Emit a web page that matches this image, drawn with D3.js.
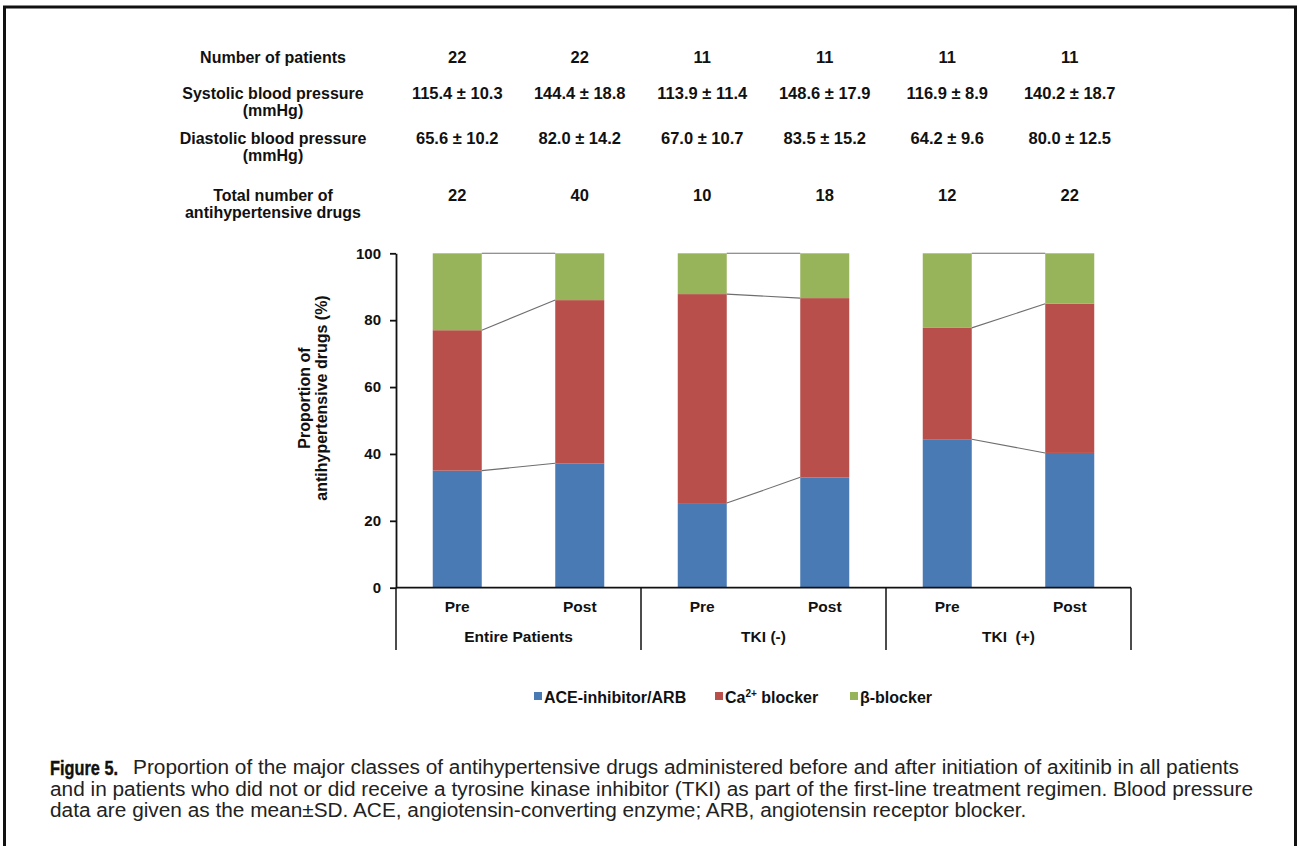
<!DOCTYPE html>
<html><head><meta charset="utf-8">
<script src="https://cdn.jsdelivr.net/npm/d3@7"></script>
<style>
body{margin:0;background:#fff}
svg text{font-family:"Liberation Sans",Arial,Helvetica,sans-serif}
</style>
</head><body>
<svg id="chart" width="1299" height="846"></svg>
<script>
// ---------------- data ----------------
const groups = ["Entire Patients", "TKI (-)", "TKI  (+)"];
const phases = ["Pre", "Post"];
const seriesKeys = ["ace", "ca", "beta"];
const seriesColors = ["#4a7ab4", "#b84f4b", "#98b45a"];
const aceValues  = [35.0, 37.2, 25.3, 33.0, 44.4, 40.3];
const caValues   = [42.0, 48.8, 62.5, 53.6, 33.3, 44.6];
const betaValues = [23.0, 14.0, 12.2, 13.4, 22.3, 15.1];
const yTicks = [0, 20, 40, 60, 80, 100];
const nPatients = ["22", "22", "11", "11", "11", "11"];
const systolic = ["115.4 \u00b1 10.3", "144.4 \u00b1 18.8", "113.9 \u00b1 11.4", "148.6 \u00b1 17.9", "116.9 \u00b1 8.9", "140.2 \u00b1 18.7"];
const diastolic = ["65.6 \u00b1 10.2", "82.0 \u00b1 14.2", "67.0 \u00b1 10.7", "83.5 \u00b1 15.2", "64.2 \u00b1 9.6", "80.0 \u00b1 12.5"];
const totalDrugs = ["22", "40", "10", "18", "12", "22"];
const rowLabels = [["Number of patients"], ["Systolic blood pressure", "(mmHg)"], ["Diastolic blood pressure", "(mmHg)"], ["Total number of", "antihypertensive drugs"]];

const rows = [];
groups.forEach((g, gi) => phases.forEach((p, pi) => {
  const i = gi * 2 + pi;
  rows.push({group: g, phase: p, ace: aceValues[i], ca: caValues[i], beta: betaValues[i]});
}));

// ---------------- layout ----------------
const svg = d3.select("#chart");
const plotLeft = 396, plotRight = 1131, plotTop = 253.3, plotBottom = 587.7;

const y = d3.scaleLinear().domain([0, 100]).range([plotBottom, plotTop]);
const x0 = d3.scaleBand().domain(groups).range([plotLeft, plotRight]).padding(0);
const x1 = d3.scaleBand().domain(phases).range([0, x0.bandwidth()]).paddingInner(0.6).paddingOuter(0.3);
const xPos = d => x0(d.group) + x1(d.phase);
const bw = x1.bandwidth();

const stacked = d3.stack().keys(seriesKeys)(rows);

// frame
svg.append("line").attr("x1", 3).attr("x2", 1297).attr("y1", 7).attr("y2", 7).attr("stroke", "#111").attr("stroke-width", 3);
svg.append("line").attr("x1", 4.5).attr("x2", 4.5).attr("y1", 6).attr("y2", 846).attr("stroke", "#111").attr("stroke-width", 3);
svg.append("line").attr("x1", 1295.5).attr("x2", 1295.5).attr("y1", 6).attr("y2", 846).attr("stroke", "#111").attr("stroke-width", 3);

// bars
stacked.forEach((s, si) => {
  svg.append("g").selectAll("rect").data(s).join("rect")
    .attr("x", d => xPos(d.data))
    .attr("width", bw)
    .attr("y", d => y(d[1]))
    .attr("height", d => y(d[0]) - y(d[1]))
    .attr("fill", seriesColors[si]);
});

// connector lines between pre and post tops
const conn = svg.append("g").attr("stroke", "#6e6e6e").attr("stroke-width", 1.1);
stacked.forEach(s => {
  groups.forEach((g, gi) => {
    const a = s[gi * 2], b = s[gi * 2 + 1];
    conn.append("line")
      .attr("x1", xPos(a.data) + bw).attr("y1", y(a[1]))
      .attr("x2", xPos(b.data)).attr("y2", y(b[1]));
  });
});

// y axis
const yAxis = svg.append("g").attr("transform", `translate(${plotLeft},0)`)
  .call(d3.axisLeft(y).tickValues(yTicks).tickSize(6).tickSizeOuter(0).tickPadding(9));
yAxis.select(".domain").attr("stroke", "#111").attr("stroke-width", 1.8);
yAxis.selectAll(".tick line").attr("stroke", "#111").attr("stroke-width", 1.8);
yAxis.selectAll("text").attr("font-size", 15).attr("font-weight", "bold").attr("fill", "#111")
  .style("font-family", "'Liberation Sans', Arial, sans-serif");

// y title
const yt = svg.append("text").attr("transform", "translate(310,398) rotate(-90)")
  .attr("text-anchor", "middle").attr("font-size", 16).attr("font-weight", "bold").attr("fill", "#111");
yt.append("tspan").attr("x", 0).attr("dy", 0).text("Proportion of");
yt.append("tspan").attr("x", 0).attr("dy", 17).text("antihypertensive drugs (%)");

// x axis line and group separators
svg.append("line").attr("x1", plotLeft).attr("x2", plotRight).attr("y1", y(0)).attr("y2", y(0)).attr("stroke", "#111").attr("stroke-width", 1.8);
const seps = groups.map(g => x0(g)).concat([x0(groups[groups.length - 1]) + x0.bandwidth()]);
svg.append("g").selectAll("line").data(seps).join("line")
  .attr("x1", d => d).attr("x2", d => d).attr("y1", y(0)).attr("y2", 650)
  .attr("stroke", "#111").attr("stroke-width", 1.5);

// phase labels
svg.append("g").selectAll("text").data(rows).join("text")
  .attr("x", d => xPos(d) + bw / 2).attr("y", 611.5)
  .attr("text-anchor", "middle").attr("font-size", 15.5).attr("font-weight", "bold").attr("fill", "#111")
  .text(d => d.phase);
// group labels
svg.append("g").selectAll("text").data(groups).join("text")
  .attr("x", d => x0(d) + x0.bandwidth() / 2).attr("y", 641.5)
  .attr("text-anchor", "middle").attr("font-size", 15.5).attr("font-weight", "bold").attr("fill", "#111")
  .style("white-space", "pre").attr("xml:space", "preserve")
  .text(d => d);

// ---------------- top table ----------------
const rowY = [62.5, 98.5, 143.5, 200.5];
const rowData = [nPatients, systolic, diastolic, totalDrugs];
rowLabels.forEach((lines, ri) => {
  const t = svg.append("text").attr("x", 273).attr("y", rowY[ri]).attr("text-anchor", "middle")
    .attr("font-size", 16).attr("font-weight", "bold").attr("fill", "#111");
  lines.forEach((l, li) => t.append("tspan").attr("x", 273).attr("dy", li === 0 ? 0 : 17).text(l));
  svg.append("g").selectAll("text").data(rowData[ri]).join("text")
    .attr("x", (d, i) => xPos(rows[i]) + bw / 2).attr("y", rowY[ri])
    .attr("text-anchor", "middle").attr("font-size", 16.5).attr("font-weight", "bold").attr("fill", "#111")
    .text(d => d);
});

// ---------------- legend ----------------
const legendItems = [
  {x: 534, color: seriesColors[0], parts: [["ACE-inhibitor/ARB", false]]},
  {x: 715, color: seriesColors[1], parts: [["Ca", false], ["2+", true], [" blocker", false]]},
  {x: 850, color: seriesColors[2], parts: [["\u03b2-blocker", false]]}
];
legendItems.forEach(it => {
  svg.append("rect").attr("x", it.x).attr("y", 692).attr("width", 8).attr("height", 8).attr("fill", it.color);
  const t = svg.append("text").attr("x", it.x + 10).attr("y", 702.5).attr("font-size", 16)
    .attr("font-weight", "bold").attr("fill", "#111").attr("xml:space", "preserve");
  it.parts.forEach(([s, sup]) => {
    const ts = t.append("tspan").text(s);
    if (sup) ts.attr("font-size", 10).attr("dy", -6);
    else if (s.startsWith(" ")) ts.attr("dy", 6);
  });
});

// ---------------- caption ----------------
const capLines = [
  "Proportion of the major classes of antihypertensive drugs administered before and after initiation of axitinib in all patients",
  "and in patients who did not or did receive a tyrosine kinase inhibitor (TKI) as part of the first-line treatment regimen. Blood pressure",
  "data are given as the mean\u00b1SD. ACE, angiotensin-converting enzyme; ARB, angiotensin receptor blocker."
];
const capY = [774, 796, 817];
svg.append("text").attr("x", 50).attr("y", capY[0] + 0.5).attr("font-size", 21).attr("font-weight", "bold")
  .attr("textLength", 68).attr("lengthAdjust", "spacingAndGlyphs")
  .style("font-family", "'Liberation Sans Narrow','Liberation Sans',Arial,sans-serif").attr("fill", "#111")
  .attr("stroke", "#111").attr("stroke-width", 0.4)
  .text("Figure 5.");
const capTexts = capLines.map((l, i) => svg.append("text")
  .attr("x", i === 0 ? 133 : 50).attr("y", capY[i]).attr("font-size", 17).attr("fill", "#222").text(l));
// fit font size so the second (full) line spans to its right edge
const w = capTexts[1].node().getComputedTextLength();
const fs = 17 * (1254 - 50) / w;
capTexts.forEach(t => t.attr("font-size", fs));
</script>
</body></html>
